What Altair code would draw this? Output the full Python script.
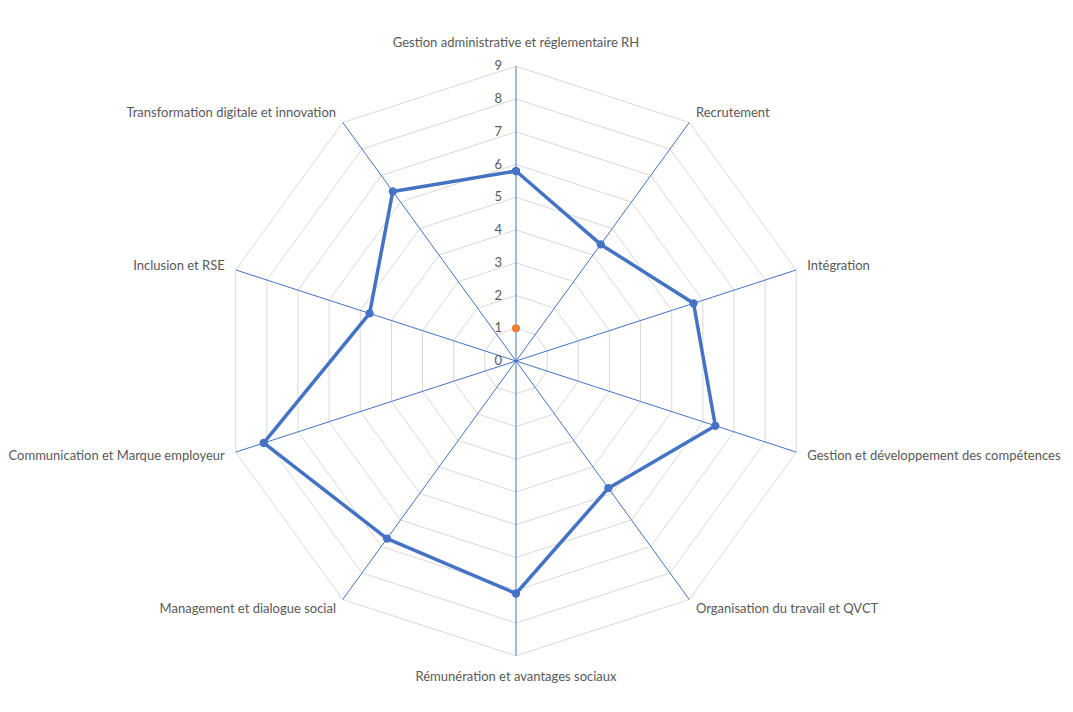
import altair as alt
import pandas as pd

categories = [
    "Gestion administrative et réglementaire RH",
    "Recrutement",
    "Intégration",
    "Gestion et développement des compétences",
    "Organisation du travail et QVCT",
    "Rémunération et avantages sociaux",
    "Management et dialogue social",
    "Communication et Marque employeur",
    "Inclusion et RSE",
    "Transformation digitale et innovation",
]
values = [5.8, 4.4, 5.7, 6.4, 4.8, 7.1, 6.7, 8.1, 4.7, 6.4]
marker_index = [0]
marker_value = [1]
ticks = [0, 1, 2, 3, 4, 5, 6, 7, 8, 9]
levels = [1, 2, 3, 4, 5, 6, 7, 8, 9]
rmax = 9

n = len(categories)
W, H = 1073, 712
unit = 32.75
cx, cy = 516, 361
xdom = [-cx / unit, (W - cx) / unit]
ydom = [-(H - cy) / unit, cy / unit]

FONT = "Lato"
TXT = "#595959"
BLUE = "#4472C4"
ORANGE = "#ED7D31"

ang = f"datum.k * 2 * PI / {n}"


def X():
    return alt.X("x:Q", scale=alt.Scale(domain=xdom, nice=False, zero=False), axis=None)


def Y():
    return alt.Y("y:Q", scale=alt.Scale(domain=ydom, nice=False, zero=False), axis=None)


# grid rings
grid_rows = [{"level": lv, "k": k} for lv in levels for k in range(n + 1)]
grid = (
    alt.Chart(pd.DataFrame(grid_rows))
    .transform_calculate(x=f"datum.level * sin({ang})", y=f"datum.level * cos({ang})")
    .mark_line(color="#D9D9D9", strokeWidth=1)
    .encode(x=X(), y=Y(), detail="level:N", order="k:Q")
)

# spokes
spokes = (
    alt.Chart(pd.DataFrame({"k": list(range(n))}))
    .transform_calculate(
        x="0", y="0", x2=f"{rmax} * sin({ang})", y2=f"{rmax} * cos({ang})"
    )
    .mark_rule(color=BLUE, strokeWidth=1)
    .encode(x=X(), y=Y(), x2="x2:Q", y2="y2:Q")
)

# series
series_df = pd.DataFrame({"k": list(range(n)) + [n], "value": values + [values[0]]})
series_base = alt.Chart(series_df).transform_calculate(
    x=f"datum.value * sin({ang})", y=f"datum.value * cos({ang})"
)
series_line = series_base.mark_line(color=BLUE, strokeWidth=3.5, strokeJoin="round").encode(
    x=X(), y=Y(), order="k:Q"
)
series_pts = series_base.mark_circle(color=BLUE, size=68, opacity=1).encode(x=X(), y=Y())

# orange marker
marker = (
    alt.Chart(pd.DataFrame({"k": marker_index, "value": marker_value}))
    .transform_calculate(x=f"datum.value * sin({ang})", y=f"datum.value * cos({ang})")
    .mark_circle(color=ORANGE, size=68, opacity=1)
    .encode(x=X(), y=Y())
)

# tick labels
tick_labels = (
    alt.Chart(pd.DataFrame({"t": ticks}))
    .transform_calculate(x="0", y="datum.t", label="'' + datum.t")
    .mark_text(align="right", baseline="middle", dx=-14, font=FONT, fontSize=13, color=TXT)
    .encode(x=X(), y=Y(), text="label:N")
)

# category labels
cat_df = pd.DataFrame({"k": list(range(n)), "cat": categories})
rl = 9.35
cat_base = alt.Chart(cat_df).transform_calculate(
    s=f"sin({ang})", c=f"cos({ang})"
).transform_calculate(
    x=f"{rl} * datum.s",
    y=f"{rl} * datum.c + (abs(datum.s) < 0.01 ? (datum.c > 0 ? 0.35 : -0.3) : 0)",
)
lab_center = cat_base.transform_filter("abs(datum.s) < 0.01").mark_text(
    align="center", baseline="middle", font=FONT, fontSize=13, color=TXT
).encode(x=X(), y=Y(), text="cat:N")
lab_left = cat_base.transform_filter("datum.s >= 0.01").mark_text(
    align="left", baseline="middle", font=FONT, fontSize=13, color=TXT
).encode(x=X(), y=Y(), text="cat:N")
lab_right = cat_base.transform_filter("datum.s <= -0.01").mark_text(
    align="right", baseline="middle", font=FONT, fontSize=13, color=TXT
).encode(x=X(), y=Y(), text="cat:N")

chart = (
    alt.layer(
        grid, spokes, series_line, series_pts, marker, tick_labels,
        lab_center, lab_left, lab_right,
    )
    .properties(width=W, height=H, autosize=alt.AutoSizeParams(type="none"), padding=0)
    .configure_view(stroke=None)
)

chart.save("out.html", embed_options={"renderer": "svg", "actions": False})
